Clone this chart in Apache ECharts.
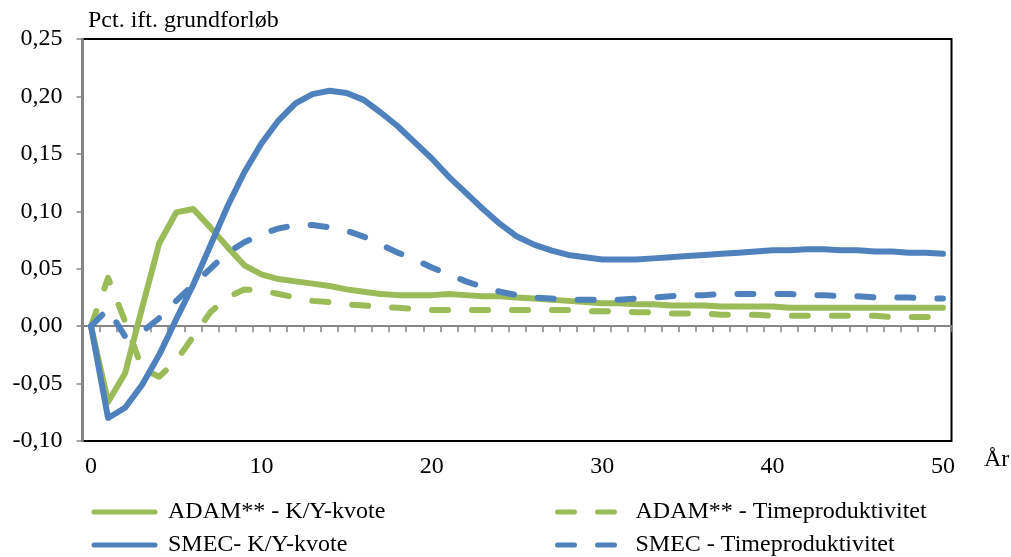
<!DOCTYPE html>
<html>
<head>
<meta charset="utf-8">
<script src="https://cdn.jsdelivr.net/npm/echarts@6/dist/echarts.min.js"></script>
<style>
  html, body { margin: 0; padding: 0; background: #fff; }
  #chart { width: 1011px; height: 557px; }
</style>
</head>
<body>
<div id="chart"></div>
<script>
// Years after the shock
const years = [0,1,2,3,4,5,6,7,8,9,10,11,12,13,14,15,16,17,18,19,20,21,22,23,24,25,
  26,27,28,29,30,31,32,33,34,35,36,37,38,39,40,41,42,43,44,45,46,47,48,49,50];

// Deviation from baseline, percent
const adamKY = [0,-0.066,-0.041,0.016,0.072,0.099,0.102,0.086,0.069,0.053,0.045,0.041,0.039,0.037,0.035,
  0.032,0.030,0.028,0.027,0.027,0.027,0.028,0.027,0.026,0.026,0.025,0.024,0.023,0.022,0.021,0.020,
  0.020,0.019,0.019,0.018,0.018,0.018,0.017,0.017,0.017,0.017,0.016,0.016,0.016,0.016,0.016,0.016,
  0.016,0.016,0.016,0.016];
const adamTime = [0,0.042,0.004,-0.037,-0.044,-0.030,-0.009,0.012,0.025,0.032,0.031,0.028,0.025,0.022,0.021,
  0.019,0.018,0.017,0.016,0.015,0.014,0.014,0.014,0.014,0.014,0.014,0.014,0.014,0.014,0.013,0.013,
  0.013,0.012,0.012,0.011,0.011,0.011,0.010,0.010,0.010,0.009,0.009,0.009,0.009,0.009,0.009,0.009,
  0.008,0.008,0.008,0.008];
const smecKY = [0,-0.080,-0.071,-0.051,-0.025,0.006,0.036,0.070,0.104,0.134,0.159,0.179,0.194,0.202,0.205,
  0.203,0.197,0.186,0.174,0.160,0.146,0.130,0.116,0.102,0.089,0.078,0.071,0.066,0.062,0.060,0.058,
  0.058,0.058,0.059,0.060,0.061,0.062,0.063,0.064,0.065,0.066,0.066,0.067,0.067,0.066,0.066,0.065,
  0.065,0.064,0.064,0.063];
const smecTime = [0,0.015,-0.009,-0.005,0.007,0.022,0.036,0.050,0.064,0.073,0.080,0.085,0.088,0.088,0.086,
  0.083,0.078,0.071,0.064,0.058,0.051,0.045,0.039,0.034,0.030,0.027,0.025,0.024,0.023,0.023,0.023,
  0.023,0.024,0.025,0.026,0.027,0.027,0.028,0.028,0.028,0.028,0.028,0.027,0.027,0.026,0.026,0.025,
  0.025,0.025,0.024,0.024];

const seriesNames = ['ADAM** - K/Y-kvote', 'ADAM** - Timeproduktivitet', 'SMEC- K/Y-kvote', 'SMEC - Timeproduktivitet'];
const yTicks = { min: -0.10, max: 0.25, step: 0.05 };

const GREEN = '#9BBB59';
const BLUE = '#4F81BD';
const AXIS_GREY = '#868686';
const FONT = '"Liberation Serif", "Times New Roman", serif';
const FONT_SIZE = 24;
const LINE_W = 6;
const DASH = [16, 24];

const chart = echarts.init(document.getElementById('chart'), null, { renderer: 'canvas' });

function lineSeries(name, data, color, dashed) {
  return {
    name: name,
    type: 'line',
    data: data,
    xAxisIndex: 0,
    symbol: 'none',
    smooth: false,
    lineStyle: { color: color, width: LINE_W, type: dashed ? DASH : 'solid', cap: 'round', join: 'round' },
    itemStyle: { color: color },
    emphasis: { disabled: true },
    z: 3
  };
}

function isDashed(n) { return n.indexOf('Timeproduktivitet') >= 0; }

// one legend entry per block, laid out in two columns
function legendAt(name, left, top) {
  const dashed = isDashed(name);
  return {
    data: [name],
    left: left,
    top: top,
    padding: 0,
    itemWidth: dashed ? 57 : 61,
    itemHeight: 14,
    selectedMode: false,
    itemStyle: { color: 'rgba(0,0,0,0)', borderWidth: 0, opacity: 0 },
    lineStyle: { width: 5, type: dashed ? [17, 23] : 'solid', cap: 'round' },
    textStyle: { fontFamily: FONT, fontSize: FONT_SIZE, color: '#000', padding: [0, 0, 0, dashed ? 16 : 8] }
  };
}

chart.setOption({
  animation: false,
  backgroundColor: '#fff',
  title: {
    text: 'Pct. ift. grundforløb',
    left: 88,
    top: 9,
    padding: 0,
    textStyle: { fontFamily: FONT, fontSize: FONT_SIZE, fontWeight: 'normal', color: '#000' }
  },
  legend: [
    legendAt(seriesNames[0], 91.5, 500),
    legendAt(seriesNames[1], 555, 500),
    legendAt(seriesNames[2], 91.5, 533),
    legendAt(seriesNames[3], 555, 533)
  ],
  grid: {
    left: 82.5, right: 59.5, top: 39, bottom: 116,
    show: true, borderColor: '#000', borderWidth: 2, backgroundColor: 'transparent'
  },
  xAxis: [
    {
      // labelled year axis along the bottom edge
      type: 'category',
      data: years,
      position: 'bottom',
      boundaryGap: true,
      axisLine: { show: false, onZero: false },
      axisTick: { show: false },
      splitLine: { show: false },
      axisLabel: {
        interval: function (i) { return years[i] % 10 === 0; },
        margin: 14,
        fontFamily: FONT, fontSize: FONT_SIZE, color: '#000'
      }
    },
    {
      // zero line with a tick between every year
      type: 'category',
      data: years,
      position: 'bottom',
      boundaryGap: true,
      axisLine: { show: true, onZero: true, lineStyle: { color: AXIS_GREY, width: 2 } },
      axisTick: { show: true, interval: 0, length: 6, lineStyle: { color: AXIS_GREY, width: 1.5 } },
      axisLabel: { show: false },
      splitLine: { show: false }
    }
  ],
  yAxis: {
    type: 'value',
    min: yTicks.min,
    max: yTicks.max,
    interval: yTicks.step,
    axisLine: { show: true, onZero: false, lineStyle: { color: AXIS_GREY, width: 2.5 } },
    axisTick: { show: true, length: 6, lineStyle: { color: AXIS_GREY, width: 1.5 } },
    splitLine: { show: false },
    axisLabel: {
      margin: 20,
      fontFamily: FONT, fontSize: FONT_SIZE, color: '#000',
      formatter: function (v) { return v.toFixed(2).replace('.', ','); }
    }
  },
  graphic: [
    {
      type: 'text',
      left: 984,
      top: 448,
      style: { text: 'År', font: FONT_SIZE + 'px ' + FONT, fill: '#000' }
    }
  ],
  series: [
    lineSeries(seriesNames[0], adamKY, GREEN, false),
    lineSeries(seriesNames[1], adamTime, GREEN, true),
    lineSeries(seriesNames[2], smecKY, BLUE, false),
    lineSeries(seriesNames[3], smecTime, BLUE, true)
  ]
});
</script>
</body>
</html>
